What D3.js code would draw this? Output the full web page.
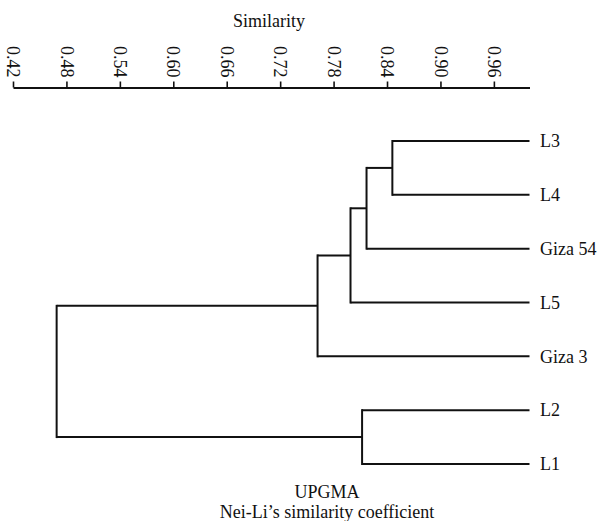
<!DOCTYPE html>
<html>
<head>
<meta charset="utf-8">
<script src="https://cdn.jsdelivr.net/npm/d3@7"></script>
<style>
  html, body { margin: 0; padding: 0; background: #fff; }
  svg text { font-family: 'Liberation Serif', 'Times New Roman', 'DejaVu Serif', serif; }
</style>
</head>
<body>
<div class="viz"></div>
<script>
// UPGMA dendrogram, Nei-Li similarity
// leaves in drawing order (top to bottom)
const taxa = ['L3', 'L4', 'Giza 54', 'L5', 'Giza 3', 'L2', 'L1'];
// each join merges joinA[i] with joinB[i] at joinSim[i], giving node n{i+1}
const joinA = ['L3', 'n1', 'n2', 'n3', 'L2', 'n4'];
const joinB = ['L4', 'Giza 54', 'L5', 'Giza 3', 'L1', 'n5'];
const joinSim = [0.846, 0.817, 0.799, 0.762, 0.812, 0.469];
// axis ticks
const tickValues = [0.42, 0.48, 0.54, 0.60, 0.66, 0.72, 0.78, 0.84, 0.90, 0.96];

const width = 600;
const height = 521;
const serif = "'Liberation Serif', 'Times New Roman', serif";

const svg = d3.select('.viz')
  .append('svg')
  .attr('width', width)
  .attr('height', height);

// horizontal scale, similarity from 0.42 to 1
const xScale = d3.scaleLinear()
  .domain([0.42, 1.0])
  .range([13, 529.5]);

// leaves spaced evenly
const yScale = d3.scalePoint()
  .domain(taxa)
  .range([141, 464]);

// build the nested tree from the join arrays
const nodes = {};
taxa.forEach(name => { nodes[name] = { name, sim: 1 }; });
joinSim.forEach((sim, i) => {
  nodes[`n${i + 1}`] = {
    name: `n${i + 1}`,
    sim,
    children: [nodes[joinA[i]], nodes[joinB[i]]],
  };
});
const root = d3.hierarchy(nodes[`n${joinSim.length}`]);

// leaf y from the point scale, internal node y halfway between its children
root.eachAfter(d => {
  d.x = xScale(d.data.sim);
  d.y = d.children
    ? (d.children[0].y + d.children[d.children.length - 1].y) / 2
    : yScale(d.data.name);
});

const stroke = '#111';
const tree = svg.append('g').attr('class', 'tree');

// vertical connectors
tree.selectAll('line.v')
  .data(root.descendants().filter(d => d.children))
  .join('line')
  .attr('class', 'v')
  .attr('x1', d => d.x)
  .attr('x2', d => d.x)
  .attr('y1', d => d.children[0].y)
  .attr('y2', d => d.children[d.children.length - 1].y)
  .attr('stroke', stroke)
  .attr('stroke-width', 2)
  .attr('stroke-linecap', 'square');

// horizontal branches
tree.selectAll('line.h')
  .data(root.descendants().filter(d => d.parent))
  .join('line')
  .attr('class', 'h')
  .attr('x1', d => d.parent.x)
  .attr('x2', d => d.x)
  .attr('y1', d => d.y)
  .attr('y2', d => d.y)
  .attr('stroke', stroke)
  .attr('stroke-width', 2);

// leaf labels
tree.selectAll('text.leaf')
  .data(root.leaves())
  .join('text')
  .attr('class', 'leaf')
  .attr('x', d => d.x + 10.5)
  .attr('y', d => d.y)
  .attr('dy', '0.35em')
  .attr('font-family', serif)
  .attr('font-size', 18)
  .attr('fill', '#111')
  .text(d => d.data.name);

// top axis
const axis = d3.axisTop(xScale)
  .tickValues(tickValues)
  .tickFormat(d3.format('.2f'))
  .tickSizeInner(6)
  .tickSizeOuter(0);

const gAxis = svg.append('g')
  .attr('class', 'axis')
  .attr('transform', 'translate(0 87.5)')
  .call(axis)
  .attr('font-family', serif);

gAxis.select('.domain')
  .attr('stroke', stroke)
  .attr('stroke-width', 2);

gAxis.selectAll('.tick line')
  .attr('stroke', stroke)
  .attr('stroke-width', 1.6);

// rotate the labels so they read top to bottom
gAxis.selectAll('.tick text')
  .attr('transform', 'rotate(90)')
  .attr('x', -10)
  .attr('y', 0)
  .attr('dy', '0.35em')
  .attr('text-anchor', 'end')
  .attr('font-size', 18)
  .attr('fill', '#111');

// axis title
svg.append('text')
  .attr('x', 269)
  .attr('y', 27)
  .attr('text-anchor', 'middle')
  .attr('font-family', serif)
  .attr('font-size', 18)
  .attr('fill', '#111')
  .text('Similarity');

// caption under the tree
svg.append('text')
  .attr('x', 327)
  .attr('y', 498)
  .attr('text-anchor', 'middle')
  .attr('font-family', serif)
  .attr('font-size', 18)
  .attr('fill', '#111')
  .text('UPGMA');

svg.append('text')
  .attr('x', 327)
  .attr('y', 518)
  .attr('text-anchor', 'middle')
  .attr('font-family', serif)
  .attr('font-size', 18)
  .attr('fill', '#111')
  .text('Nei-Li\u2019s similarity coefficient');
</script>
</body>
</html>
